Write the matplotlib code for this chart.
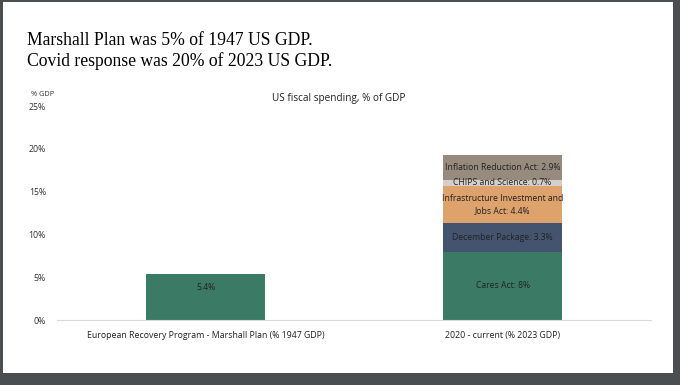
import numpy as np
import matplotlib.pyplot as plt
from matplotlib.patches import Rectangle

categories = ["European Recovery Program - Marshall Plan (% 1947 GDP)",
              "2020 - current (% 2023 GDP)"]
segments = ["Cares Act", "December Package",
            "Infrastructure Investment and Jobs Act",
            "CHIPS and Science", "Inflation Reduction Act"]
marshall = [5.4]
covid = [8.0, 3.3, 4.4, 0.7, 2.9]
seg_labels = ["Cares Act: 8%", "December Package: 3.3%",
              "Infrastructure Investment and\nJobs Act: 4.4%",
              "CHIPS and Science: 0.7%", "Inflation Reduction Act: 2.9%"]
seg_colors = ["#3b7a64", "#44546e", "#dea26d", "#d2cfcc", "#978b7d"]
yticks = [0, 5, 10, 15, 20, 25]

plt.rcParams['font.family'] = ['Open Sans', 'DejaVu Sans']

fig = plt.figure(figsize=(6.8, 3.85), dpi=100)
fig.patch.set_facecolor("#4b4e51")
fig.patches.append(Rectangle((3/680, 1 - 373/385), 670/680, 371/385,
                             transform=fig.transFigure, facecolor="white",
                             edgecolor="none", zorder=-10))

ax = fig.add_axes([57/680, 1 - 320/385, 594/680, 214/385])
ax.set_facecolor("white")
x = np.arange(len(categories))
w = 0.4
ax.bar(x[0], marshall[0], width=w, color=seg_colors[0])
ax.text(x[0], marshall[0] - 1.6, "5.4%", ha="center", va="center",
        fontsize=6.2, color="#222222")

bottom = 0
for v, lab, c in zip(covid, seg_labels, seg_colors):
    ax.bar(x[1], v, width=w, bottom=bottom, color=c)
    ax.text(x[1], bottom + v / 2, lab, ha="center", va="center",
            fontsize=6.2, color="#222222", linespacing=1.45)
    bottom += v

ax.set_xlim(-0.5, 1.5)
ax.set_ylim(0, 25)
ax.set_yticks(yticks)
ax.set_yticklabels([f"{t}%" for t in yticks], fontsize=6.3, color="#333333")
ax.set_xticks(x)
ax.set_xticklabels(categories, fontsize=6.3, color="#222222")
ax.tick_params(length=0, pad=8)
ax.tick_params(axis="y", pad=8)
for s in ["top", "right", "left"]:
    ax.spines[s].set_visible(False)
ax.spines["bottom"].set_color("#d9d9d9")

fig.text(31/680, 1 - 94/385, "% GDP", fontsize=5.3, color="#333333", va="center")
fig.text(339/680, 1 - 98/385, "US fiscal spending, % of GDP", fontsize=7.2,
         color="#222222", ha="center", va="center")
fig.text(27/680, 1 - 45/385, "Marshall Plan was 5% of 1947 US GDP.",
         fontsize=12.7, family="Liberation Serif", color="black")
fig.text(27/680, 1 - 66/385, "Covid response was 20% of 2023 US GDP.",
         fontsize=12.7, family="Liberation Serif", color="black")

fig.savefig("out.png", dpi=100, facecolor=fig.get_facecolor())
